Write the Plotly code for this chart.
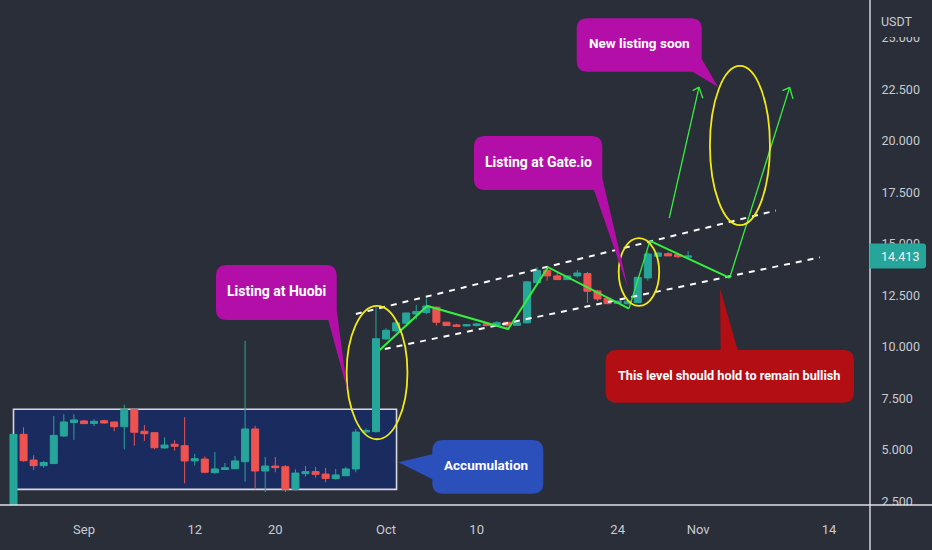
import pandas as pd
import plotly.graph_objects as go

BG = "#2a2e39"
UP = "#26a69a"
DOWN = "#ef5350"
GREEN = "#35ee3f"
YELLOW = "#f2ea16"
PURPLE = "#b30fa8"
AXIS_COL = "#dfe1e6"
TEXT_COL = "#c9cbd1"
FONT = "Roboto"

W, H = 932, 550
PLOT_W, PLOT_H = 870, 505

dates = pd.date_range("2021-08-25", periods=68).strftime("%Y-%m-%d").tolist()

opens = [1.80, 5.76, 4.51, 4.24, 4.34, 5.68, 6.33, 6.41, 6.29, 6.42, 6.36, 6.13, 6.97, 5.91, 5.84, 5.10, 5.28,
         5.21, 4.47, 4.56, 3.90, 4.05, 4.09, 4.43, 6.02, 3.98, 4.22, 4.19, 3.09, 3.85, 3.95, 3.83, 3.61, 3.75,
         4.08, 5.87, 5.89, 10.39, 10.78, 11.15, 11.60, 11.67, 11.93, 11.20, 11.07, 11.02, 11.04, 11.13, 11.04,
         11.20, 11.05, 11.17, 13.12, 13.72, 13.45, 13.27, 13.45, 13.56, 12.72, 12.36, 12.12, 12.10, 12.15, 13.35,
         14.40, 14.53, 14.48, 14.36]
highs = [5.76, 6.10, 4.74, 4.47, 6.65, 6.73, 6.73, 6.46, 6.50, 6.47, 6.38, 7.20, 6.97, 6.21, 5.84, 5.61, 5.47,
         6.59, 4.81, 4.69, 4.90, 4.37, 4.71, 10.29, 6.17, 4.66, 4.66, 4.27, 4.06, 4.22, 4.17, 4.13, 4.08, 4.17,
         6.02, 6.04, 11.93, 10.91, 11.28, 11.65, 12.04, 12.36, 11.96, 11.20, 11.13, 11.10, 11.17, 11.15, 11.25,
         11.22, 11.17, 13.18, 13.87, 13.88, 13.58, 13.47, 13.74, 13.64, 12.77, 12.38, 12.25, 12.28, 13.38, 14.60,
         14.62, 14.60, 14.52, 14.65]
lows = [1.80, 4.43, 4.03, 4.14, 4.32, 5.63, 5.49, 6.26, 6.16, 6.28, 5.91, 5.03, 5.21, 5.44, 5.03, 5.06, 4.97,
        3.38, 4.24, 3.87, 3.85, 4.03, 4.09, 3.46, 3.09, 2.96, 3.92, 2.96, 3.04, 3.71, 3.66, 3.43, 3.56, 3.75,
        3.92, 5.81, 5.85, 10.34, 10.70, 11.12, 11.34, 11.59, 11.04, 11.04, 10.97, 11.00, 10.99, 11.00, 10.99,
        10.92, 11.03, 11.15, 13.10, 13.22, 13.27, 13.25, 13.37, 12.14, 12.22, 12.08, 12.10, 12.05, 12.15, 13.22,
        14.35, 14.42, 14.32, 14.30]
closes = [5.76, 4.48, 4.24, 4.39, 5.71, 6.36, 6.46, 6.28, 6.39, 6.31, 6.13, 6.97, 5.86, 5.79, 5.11, 5.24, 5.18,
          4.47, 4.58, 3.92, 4.08, 4.14, 4.47, 6.02, 3.98, 4.22, 4.14, 3.09, 3.88, 3.95, 3.82, 3.62, 3.79, 4.08,
          5.87, 5.95, 10.40, 10.81, 11.17, 11.65, 11.72, 11.99, 11.20, 11.04, 11.00, 11.08, 11.12, 11.04, 11.18,
          11.05, 11.17, 13.16, 13.72, 13.45, 13.27, 13.45, 13.59, 12.70, 12.33, 12.10, 12.22, 12.22, 13.38, 14.51,
          14.56, 14.42, 14.38, 14.413]

price_ticks = [2.5, 5, 7.5, 10, 12.5, 15, 17.5, 20, 22.5, 25]
price_labels = ["2.500", "5.000", "7.500", "10.000", "12.500", "15.000", "17.500", "20.000", "22.500", "25.000"]
date_ticks = ["2021-09-01", "2021-09-12", "2021-09-20", "2021-10-01", "2021-10-10", "2021-10-24", "2021-11-01", "2021-11-14"]
date_labels = ["Sep", "12", "20", "Oct", "10", "24", "Nov", "14"]
last_price = "14.413"

# drawn on the chart by the author
upper_x = ["2021-09-28 00:00", "2021-11-08 17:00"]
upper_y = [11.60, 16.62]
lower_x = ["2021-09-30 21:00", "2021-11-13 02:00"]
lower_y = [9.90, 14.35]
# the flat legs of the projected path look heavier than the steep ones
path_flat_x = ["2021-09-30 09:00", "2021-10-05 02:00", "2021-10-13 03:00", "2021-10-17 02:00", "2021-10-25 03:00", None,
               "2021-10-27 05:00", "2021-11-04 03:00"]
path_flat_y = [9.85, 11.99, 10.87, 13.87, 11.86, None, 15.15, 13.35]
path_steep_x = ["2021-10-25 03:00", "2021-10-27 05:00", None, "2021-11-04 03:00", "2021-11-10 02:00", "2021-11-09 09:00", None,
                "2021-11-10 02:00", "2021-11-10 10:00"]
path_steep_y = [11.86, 15.15, None, 13.35, 22.60, 22.44, None, 22.60, 22.04]
arrow_x = ["2021-10-29 03:00", "2021-11-01 02:00", "2021-10-31 11:00", None, "2021-11-01 02:00", "2021-11-01 11:00"]
arrow_y = [16.25, 22.61, 22.44, None, 22.61, 22.07]


def px(x):
    return x / PLOT_W


def py(y):
    return 1 - y / PLOT_H


def bubble(x0, y0, x1, y1, color, top=(), right=(), left=(), r=11):
    # rounded box, the tail points are put in on the edge they belong to (screen pixels)
    pts = [(x0 + r, y0)] + list(top) + [(x1 - r, y0), ("Q", x1, y0, x1, y0 + r)]
    if right:
        pts += list(right)
    else:
        pts += [(x1, y1 - r), ("Q", x1, y1, x1 - r, y1)]
    pts += [(x0 + r, y1), ("Q", x0, y1, x0, y1 - r)] + list(left) + [(x0, y0 + r), ("Q", x0, y0, x0 + r, y0)]
    parts = []
    for i, p in enumerate(pts):
        if p[0] == "Q":
            parts.append(f"Q{px(p[1])},{py(p[2])} {px(p[3])},{py(p[4])}")
        else:
            parts.append(("M" if i == 0 else "L") + f"{px(p[0])},{py(p[1])}")
    return dict(type="path", xref="paper", yref="paper", path=" ".join(parts) + " Z", fillcolor=color, line_width=0, layer="above")


def ellipse(x0, x1, y0, y1):
    return dict(type="circle", xref="x", yref="y", x0=x0, x1=x1, y0=y0, y1=y1, line=dict(color=YELLOW, width=1.8), layer="above")


def pixel_rect(x0, y0, x1, y1, color):
    return dict(type="rect", xref="paper", yref="paper", x0=px(x0), x1=px(x1), y0=py(y1), y1=py(y0),
                fillcolor=color, line_width=0, layer="above")


def label(x, y, text, size=14, color="white", anchor="center", bold=True):
    return dict(xref="paper", yref="paper", x=px(x), y=py(y), text=f"<b>{text}</b>" if bold else text, showarrow=False,
                xanchor=anchor, yanchor="middle", font=dict(family=FONT, size=size, color=color))


fig = go.Figure()
fig.add_trace(go.Candlestick(
    x=dates, open=opens, high=highs, low=lows, close=closes,
    increasing=dict(line=dict(color=UP, width=1), fillcolor=UP),
    decreasing=dict(line=dict(color=DOWN, width=1), fillcolor=DOWN),
    whiskerwidth=0, showlegend=False,
))
for xs, ys in [(upper_x, upper_y), (lower_x, lower_y)]:
    fig.add_trace(go.Scatter(x=xs, y=ys, mode="lines", line=dict(color="white", width=2, dash="6px,6px"), showlegend=False, hoverinfo="skip"))
fig.add_trace(go.Scatter(x=path_flat_x, y=path_flat_y, mode="lines", line=dict(color=GREEN, width=2), showlegend=False, hoverinfo="skip"))
fig.add_trace(go.Scatter(x=path_steep_x, y=path_steep_y, mode="lines", line=dict(color=GREEN, width=1.3), showlegend=False, hoverinfo="skip"))
fig.add_trace(go.Scatter(x=arrow_x, y=arrow_y, mode="lines", line=dict(color=GREEN, width=1.3), showlegend=False, hoverinfo="skip"))

shapes = [
    # accumulation box
    dict(type="rect", xref="x", yref="y", x0="2021-08-25", x1="2021-10-02 01:00", y0=3.09, y1=6.98,
         fillcolor="#1a2b60", line=dict(color="#d5d8de", width=1.6), layer="below"),
    ellipse("2021-09-27 02:00", "2021-10-03 03:00", 5.52, 11.99),
    ellipse("2021-10-24 02:30", "2021-10-28 03:00", 11.99, 15.28),
    ellipse("2021-11-02 04:00", "2021-11-08 03:00", 15.91, 23.64),
    bubble(216, 265, 336.7, 320, PURPLE, right=[(336.7, 310), (347.3, 390), (328.3, 320)]),
    bubble(474, 136, 602.3, 190, PURPLE, right=[(602.3, 178), (628, 288), (594, 190)]),
    bubble(576.7, 18.3, 701.7, 71.7, PURPLE, right=[(701.7, 59), (718, 87), (692.7, 71.7)]),
    bubble(432.3, 440, 543.3, 493.7, "#2b4fbb", left=[(432.3, 479.3), (398.3, 462.3), (432.3, 454.3)]),
    bubble(605.7, 350, 854, 402.7, "#b20e14", top=[(720.7, 350), (720, 288.3), (737.7, 350)]),
    # covers the clipped axis labels, like the price scale does
    pixel_rect(871, 0, 932, 37, BG),
    pixel_rect(871, 505, 932, 550, BG),
    # axis lines
    pixel_rect(869.3, 0, 870.7, 550, AXIS_COL),
    pixel_rect(0, 504.3, 932, 505.7, AXIS_COL),
    # last price tag
    dict(type="path", xref="paper", yref="paper", fillcolor=UP, line_width=0, layer="above",
         path=f"M{px(869.5)},{py(243.5)} L{px(923)},{py(243.5)} Q{px(926)},{py(243.5)} {px(926)},{py(246.5)} "
              f"L{px(926)},{py(265.5)} Q{px(926)},{py(268.5)} {px(923)},{py(268.5)} L{px(869.5)},{py(268.5)} Z"),
]

annotations = [
    label(276, 290.7, "Listing at Huobi"),
    label(538, 161.7, "Listing at Gate.io"),
    label(639, 43, "New listing soon", size=13.5),
    label(486, 465, "Accumulation", size=13.5),
    label(729, 375, "This level should hold to remain bullish", size=12.7),
    label(879, 21, "USDT", size=12.5, color=TEXT_COL, anchor="left", bold=False),
    label(879, 256, last_price, size=12.5, color="#eef0f2", anchor="left", bold=False),
]

fig.update_layout(
    width=W, height=H,
    margin=dict(l=0, r=W - PLOT_W, t=0, b=H - PLOT_H),
    paper_bgcolor=BG, plot_bgcolor=BG,
    showlegend=False,
    boxgap=0.2, boxgroupgap=0.13,
    shapes=shapes,
    annotations=annotations,
    xaxis=dict(
        type="date", range=["2021-08-23 15:50", "2021-11-18 01:30"], rangeslider_visible=False,
        tickvals=date_ticks, ticktext=date_labels, showgrid=False, zeroline=False, showline=False,
        ticks="outside", ticklen=12, tickcolor=BG, tickfont=dict(family=FONT, size=13, color=TEXT_COL),
    ),
    yaxis=dict(
        side="right", range=[2.33, 26.84], tickvals=price_ticks, ticktext=price_labels,
        showgrid=False, zeroline=False, showline=False,
        ticks="outside", ticklen=8, tickcolor=BG, tickfont=dict(family=FONT, size=12.5, color=TEXT_COL),
    ),
)

# browser's default body margin would push the chart off by 8px
fig.write_html("out.html", config={"displayModeBar": False}, post_script="document.body.style.margin='0';")
